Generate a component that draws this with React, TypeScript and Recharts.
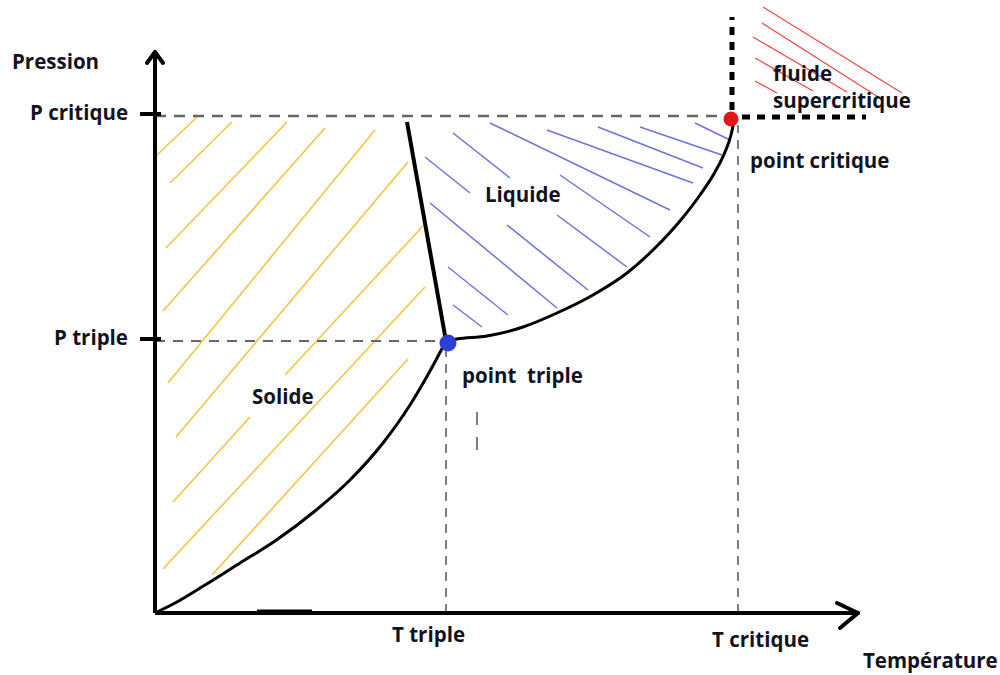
import React from "react";
import {
  ComposedChart,
  Line,
  XAxis,
  YAxis,
  ReferenceLine,
  ReferenceDot,
} from "recharts";

// axis span (arbitrary units, origin at the axes corner)
const T_MAX = 703;
const P_MAX = 561;

const T_TRIPLE = 291;
const T_CRITIQUE = 583;
const P_TRIPLE = 272;
const P_CRITIQUE = 497;

const X_TICKS = [T_TRIPLE, T_CRITIQUE];
const X_TICK_LABELS = ["T triple", "T critique"];
const Y_TICKS = [P_TRIPLE, P_CRITIQUE];
const Y_TICK_LABELS = ["P triple", "P critique"];

const TRIPLE_POINT = { t: 293, p: 270 };
const CRITICAL_POINT = { t: 576, p: 494 };

// phase boundaries [t, p]
const SUBLIMATION: [number, number][] = [
  [0, 0], [20, 10], [50, 28], [85, 50], [120, 72], [160, 102],
  [195, 133], [228, 170], [255, 208], [275, 242], [291, 272],
];
const FUSION: [number, number][] = [[252, 491], [291, 272]];
const VAPORISATION: [number, number][] = [
  [291, 272], [302, 274], [332, 277], [368, 286], [402, 300], [438, 318],
  [472, 340], [500, 365], [525, 392], [545, 418], [560, 441], [570, 461],
  [576, 478], [579, 492],
];

// hatching strokes [t1, p1, t2, p2]
const SOLID_HATCH = [
  [2, 458, 42, 496], [15, 430, 77, 491], [11, 365, 132, 491],
  [8, 302, 170, 485], [13, 230, 220, 483], [21, 176, 253, 451],
  [130, 238, 268, 387], [18, 111, 95, 196], [8, 44, 270, 326],
  [57, 38, 253, 254],
];
const LIQUID_HATCH = [
  [270, 456, 315, 420], [298, 480, 355, 435], [335, 490, 515, 403],
  [392, 483, 538, 430], [443, 486, 548, 445], [485, 486, 567, 458],
  [540, 490, 575, 473], [405, 438, 495, 376], [275, 410, 402, 305],
  [352, 388, 433, 323], [402, 398, 472, 346], [293, 346, 353, 298],
  [298, 308, 327, 286],
];
const FLUID_HATCH = [
  [608, 606, 747, 520], [607, 590, 728, 513], [598, 576, 692, 521],
  [600, 555, 658, 522], [600, 532, 622, 520],
];

const SUPERCRIT_TOP = 596;
const SUPERCRIT_RIGHT = 711;

const ANNOTATIONS = [
  { text: "Pression", t: -143, p: 544 },
  { text: "Liquide", t: 330, p: 411 },
  { text: "Solide", t: 97, p: 209 },
  { text: "point", t: 307, p: 230 },
  { text: "triple", t: 372, p: 230 },
  { text: "point critique", t: 595, p: 445 },
  { text: "fluide", t: 618, p: 532 },
  { text: "supercritique", t: 618, p: 505 },
  { text: "Température", t: 708, p: -55 },
];

const FONT = "'Open Sans', sans-serif";
const textStyle = { fontFamily: FONT, fontWeight: 700, fontSize: 20.5, fill: "#12131f" };
const X_LABEL_SHIFT = [{ dx: -54, dy: 21 }, { dx: -26, dy: 26 }];

const toPts = (arr: [number, number][]) => arr.map(([t, p]) => ({ t, p }));

function XTick(props: any) {
  const { x, y, index } = props;
  const s = X_LABEL_SHIFT[index] ?? { dx: 0, dy: 20 };
  return (
    <text x={x + s.dx} y={y + s.dy} style={textStyle}>
      {X_TICK_LABELS[index]}
    </text>
  );
}

function YTick(props: any) {
  const { x, y, index } = props;
  return (
    <g>
      <line x1={x - 7} x2={x + 14} y1={y - 2} y2={y - 2} stroke="#000" strokeWidth={4} />
      <text x={x - 19} y={y + 4} textAnchor="end" style={textStyle}>
        {Y_TICK_LABELS[index]}
      </text>
    </g>
  );
}

function seg(h: number[], key: string, stroke: string, width: number, extra: any = {}) {
  return (
    <ReferenceLine
      key={key}
      segment={[{ x: h[0], y: h[1] }, { x: h[2], y: h[3] }]}
      stroke={stroke}
      strokeWidth={width}
      ifOverflow="visible"
      {...extra}
    />
  );
}

export default function App() {
  return (
    <div style={{ position: "absolute", left: 0, top: 0, width: 1000, height: 675, background: "#fff" }}>
      <ComposedChart width={1000} height={675} margin={{ top: 52, right: 142, bottom: 32, left: 95 }}>
        <XAxis
          type="number"
          dataKey="t"
          domain={[0, T_MAX]}
          ticks={X_TICKS}
          tick={<XTick />}
          tickLine={false}
          axisLine={{ stroke: "#000", strokeWidth: 4 }}
          height={30}
        />
        <YAxis
          type="number"
          dataKey="p"
          domain={[0, P_MAX]}
          ticks={Y_TICKS}
          tick={<YTick />}
          tickLine={false}
          axisLine={{ stroke: "#000", strokeWidth: 4 }}
          width={60}
        />

        {SOLID_HATCH.map((h, i) => seg(h, `s${i}`, "#f6c445", 1.6))}
        {LIQUID_HATCH.map((h, i) => seg(h, `l${i}`, "#6b73e0", 1.5))}
        {FLUID_HATCH.map((h, i) => seg(h, `f${i}`, "#f04848", 1.3))}

        {/* guide lines */}
        {seg([0, P_CRITIQUE, CRITICAL_POINT.t, P_CRITIQUE], "gpc", "#666", 2.5, { strokeDasharray: "11 8" })}
        {seg([0, P_TRIPLE, T_TRIPLE, P_TRIPLE], "gpt", "#666", 2, { strokeDasharray: "10 8" })}
        {seg([T_TRIPLE, 0, T_TRIPLE, P_TRIPLE - 6], "gtt", "#555", 1.5, { strokeDasharray: "9 7" })}
        {seg([T_CRITIQUE, 0, T_CRITIQUE, P_CRITIQUE - 9], "gtc", "#555", 1.5, { strokeDasharray: "9 7" })}
        {seg([322, 201, 322, 161], "stray", "#555", 1.5, { strokeDasharray: "13 12" })}
        {seg([102, 1.5, 157, 1.5], "bump", "#000", 4)}

        {/* supercritical boundary */}
        {seg([CRITICAL_POINT.t + 1, P_CRITIQUE + 6, CRITICAL_POINT.t + 1, SUPERCRIT_TOP], "sv", "#000", 5, { strokeDasharray: "8 7" })}
        {seg([T_CRITIQUE + 4, P_CRITIQUE - 1, SUPERCRIT_RIGHT, P_CRITIQUE - 1], "sh", "#000", 5, { strokeDasharray: "8 7" })}

        {/* arrow heads */}
        {seg([682, 10, T_MAX, 0], "ax1", "#000", 4, { strokeLinecap: "round" })}
        {seg([685, -15, T_MAX, 0], "ax2", "#000", 4, { strokeLinecap: "round" })}
        {seg([-8, 550, 0, P_MAX], "ay1", "#000", 4, { strokeLinecap: "round" })}
        {seg([8, 550, 0, P_MAX], "ay2", "#000", 4, { strokeLinecap: "round" })}

        <Line data={toPts(SUBLIMATION)} dataKey="p" type="monotone" stroke="#000" strokeWidth={3} dot={false} isAnimationActive={false} />
        <Line data={toPts(FUSION)} dataKey="p" type="linear" stroke="#000" strokeWidth={4} dot={false} isAnimationActive={false} />
        <Line data={toPts(VAPORISATION)} dataKey="p" type="monotone" stroke="#000" strokeWidth={3} dot={false} isAnimationActive={false} />

        <ReferenceDot x={TRIPLE_POINT.t} y={TRIPLE_POINT.p} r={8.5} fill="#2e3fd6" stroke="none" ifOverflow="visible" />
        <ReferenceDot x={CRITICAL_POINT.t} y={CRITICAL_POINT.p} r={7.5} fill="#e5151d" stroke="none" ifOverflow="visible" />

        {ANNOTATIONS.map((a, i) => (
          <ReferenceDot
            key={`a${i}`}
            x={a.t}
            y={a.p}
            r={1}
            ifOverflow="visible"
            shape={(p: any) => (
              <text x={p.cx} y={p.cy} style={textStyle}>
                {a.text}
              </text>
            )}
          />
        ))}
      </ComposedChart>
    </div>
  );
}
